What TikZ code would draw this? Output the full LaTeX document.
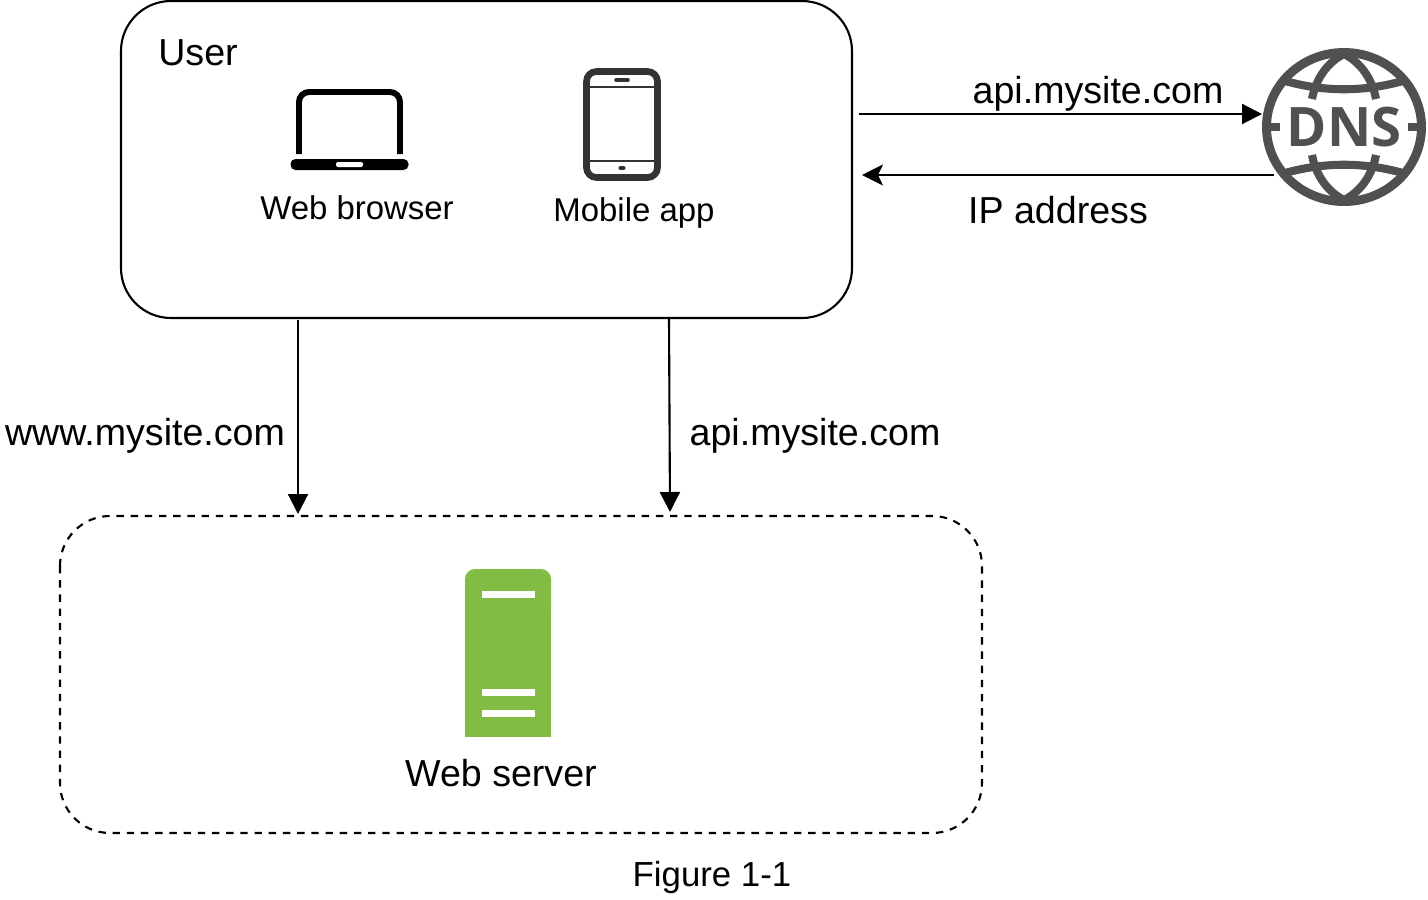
\documentclass[tikz,border=0pt]{standalone}
\usepackage{fontspec}
\setmainfont{Liberation Sans}
\newfontfamily\dnsfont{Open Sans}
\usetikzlibrary{arrows.meta}
\definecolor{servergreen}{HTML}{82BC45}
\definecolor{dnsgrey}{HTML}{505050}
\definecolor{phonegrey}{HTML}{333333}
\tikzset{
  box/.style={draw,line width=1.2pt,rounded corners=1cm},
  bigtext/.style={anchor=base,inner sep=0pt,font=\fontsize{21.4}{24}\selectfont},
  smalltext/.style={anchor=base,inner sep=0pt,font=\fontsize{18.75}{22}\selectfont},
  arrow/.style={line width=1.2pt,-{Triangle[length=0.4cm,width=0.4cm]}},
  backarrow/.style={line width=1.2pt,-{Stealth[length=0.42cm,width=0.42cm,inset=0.1cm]}},
  slit/.style={fill=white,draw=none}
}
\begin{document}
\begin{tikzpicture}[x=0.02cm,y=-0.02cm]
\useasboundingbox (0,0) rectangle (1428,900);
\draw[box] (121,1) rectangle (852,318);
\draw[box,dash pattern=on 4.2pt off 3.88pt] (60,516) rectangle (982,833);
\node[bigtext] (user) at (198,65) {User};
\node[smalltext] (browser) at (357,219) {Web browser};
\node[smalltext] (mobile) at (634,221) {Mobile app};
\node[bigtext] (apidns) at (1098,103) {api.mysite.com};
\node[bigtext] (ipaddr) at (1058,223) {IP address};
\node[bigtext] (www) at (145,445) {www.mysite.com};
\node[bigtext] (apiweb) at (815,445) {api.mysite.com};
\node[bigtext] (webserver) at (501,786) {Web server};
\node[anchor=base,inner sep=0pt,font=\fontsize{19.8}{24}\selectfont] (figure) at (712,886) {Figure 1-1};
\draw[line width=3.4pt,rounded corners=0.2cm] (299,154) -- (299,92) -- (400,92) -- (400,154);
\fill[rounded corners=0.1cm] (290.5,159) rectangle (408.5,170);
\fill[white,rounded corners=0.04cm] (336,162) rectangle (363,167);
\draw[phonegrey,line width=3.8pt,rounded corners=0.2cm] (586.5,71.5) rectangle (657.5,177.5);
\draw[phonegrey,line width=1.7pt] (587,87) -- (657,87);
\draw[phonegrey,line width=1.7pt] (587,161) -- (657,161);
\draw[phonegrey,line width=2pt,line cap=round] (616,80) -- (628,80);
\draw[phonegrey,line width=2.4pt,line cap=round] (620.5,168) -- (623.5,168);
\fill[servergreen,rounded corners=0.2cm] (465,569) rectangle (551,620);
\fill[servergreen] (465,590) rectangle (551,737);
\fill[slit] (482,591) rectangle (535,598);
\fill[slit] (482,689) rectangle (535,696);
\fill[slit] (482,710) rectangle (535,717);
\draw[dnsgrey,line width=5.1pt] (1344,127) ellipse [x radius=77.5,y radius=74.5];
\node[text=dnsgrey,inner sep=0pt,font=\dnsfont\bfseries\fontsize{31}{31}\selectfont] (dns) at (1344,127) {DNS};
\draw[dnsgrey,line width=4.6pt] (1285,81) .. controls (1325,92) and (1363,92) .. (1403,81);
\draw[dnsgrey,line width=4.6pt] (1285,173) .. controls (1325,162) and (1363,162) .. (1403,173);
\draw[dnsgrey,line width=4.6pt] (1312,99) .. controls (1316,78) and (1328,62) .. (1344,54) .. controls (1360,62) and (1372,78) .. (1376,99);
\draw[dnsgrey,line width=4.6pt] (1312,155) .. controls (1316,176) and (1328,192) .. (1344,200) .. controls (1360,192) and (1372,176) .. (1376,155);
\draw[dnsgrey,line width=5pt] (1268,127) -- (1280,127);
\draw[dnsgrey,line width=5pt] (1408,127) -- (1420,127);
\coordinate (userright) at (859,114);
\coordinate (dnsleft) at (1262,114);
\coordinate (dnsback) at (1274,175);
\coordinate (userback) at (862,175);
\coordinate (wwwout) at (298,320);
\coordinate (wwwin) at (298,514);
\coordinate (apiout) at (669,318);
\coordinate (apiin) at (670,512);
\draw[arrow] (userright) -- (dnsleft);
\draw[backarrow] (dnsback) -- (userback);
\draw[arrow] (wwwout) -- (wwwin);
\draw[arrow] (apiout) -- (apiin);
\end{tikzpicture}
\end{document}
